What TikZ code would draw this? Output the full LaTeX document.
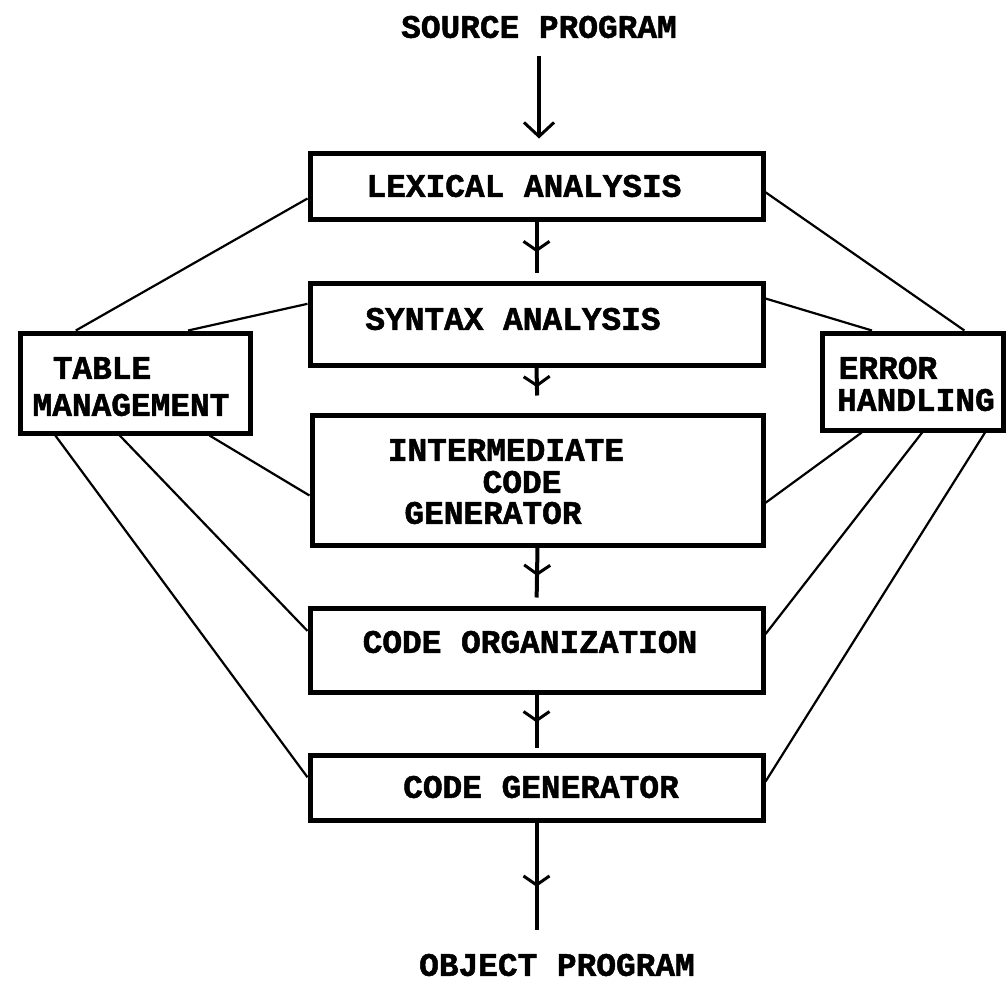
\documentclass[tikz,border=0pt]{standalone}
\usepackage{fontspec}
\newfontfamily\tw{Liberation Mono}[BoldFeatures={FakeBold=1.5}]
\usetikzlibrary{calc,arrows.meta,decorations.markings}
\begin{document}
\begin{tikzpicture}[x=1pt,y=-1pt,
  box/.style={draw,line width=5pt,inner sep=0pt},
  lbl/.style={inner sep=0pt,font=\tw\bfseries\fontsize{32.8}{34}\selectfont},
  link/.style={line width=2.2pt},
  shaft/.style={line width=4pt},
  midarrow/.style={postaction={decorate},decoration={markings,
    mark=at position #1 with {\arrow[line width=3pt]{Straight Barb[length=9pt,width=26pt]}}}},
]
\useasboundingbox (0,0) rectangle (1007,982);

% boxes
\node[box,minimum width=453pt,minimum height=66pt]  (lex)   at (536.5,186) {};
\node[box,minimum width=453pt,minimum height=82pt]  (syn)   at (536.5,324) {};
\node[box,minimum width=451pt,minimum height=130pt] (inter) at (537.5,480) {};
\node[box,minimum width=453pt,minimum height=84pt]  (org)   at (536.5,650) {};
\node[box,minimum width=453pt,minimum height=65pt]  (gen)   at (536.5,787.5) {};
\node[box,minimum width=230pt,minimum height=100pt] (tm)    at (135,383) {};
\node[box,minimum width=181pt,minimum height=97pt]  (eh)    at (912.5,381.5) {};

% texts
\node[lbl] (src)  at (539,27)  {SOURCE PROGRAM};
\node[lbl] (lext) at (524,186) {LEXICAL ANALYSIS};
\node[lbl] (synt) at (513,319) {SYNTAX ANALYSIS};
\node[lbl] (in1)  at (506,450) {INTERMEDIATE};
\node[lbl] (in2)  at (522,482) {CODE};
\node[lbl] (in3)  at (493,513) {GENERATOR};
\node[lbl] (orgt) at (530,642) {CODE ORGANIZATION};
\node[lbl] (gent) at (541,787) {CODE GENERATOR};
\node[lbl] (obj)  at (557,965) {OBJECT PROGRAM};
\node[lbl] (tm1)  at (102,368) {TABLE};
\node[lbl] (tm2)  at (131,405) {MANAGEMENT};
\node[lbl] (eh1)  at (888,368) {ERROR};
\node[lbl] (eh2)  at (916,400) {HANDLING};

% main flow
\draw[shaft,-{Straight Barb[length=14pt,width=30pt,line width=3pt]},shorten <=18pt,shorten >=12pt]
  (src.south) -- (src.south |- lex.north);
\draw[shaft,midarrow=0.52,shorten >=8pt]  (lex.south)   -- (syn.north);
\draw[shaft,midarrow=0.44,shorten >=17pt] (syn.south)   -- (inter.north);
\draw[shaft,midarrow=0.49,shorten >=8pt]  (inter.south) -- (org.north);
\draw[shaft,midarrow=0.48,shorten >=5pt]  (org.south)   -- (gen.north);
\draw[shaft,midarrow=0.49,shorten >=24pt] (gen.south)   -- (gen.south |- obj.north);

% table management links
\draw[link] ($(tm.north west)!0.248!(tm.north east)$) -- ($(lex.north west)!0.676!(lex.south west)$);
\draw[link] ($(tm.north west)!0.726!(tm.north east)$) -- ($(syn.north west)!0.268!(syn.south west)$);
\draw[link] ($(tm.south west)!0.817!(tm.south east)$) -- ($(inter.north west)!0.615!(inter.south west)$);
\draw[link] ($(tm.south west)!0.435!(tm.south east)$) -- ($(org.north west)!0.286!(org.south west)$);
\draw[link] ($(tm.south west)!0.161!(tm.south east)$) -- ($(gen.north west)!0.354!(gen.south west)$);

% error handling links
\draw[link] ($(lex.north east)!0.588!(lex.south east)$) -- ($(eh.north west)!0.779!(eh.north east)$);
\draw[link] ($(syn.north east)!0.207!(syn.south east)$) -- ($(eh.north west)!0.282!(eh.north east)$);
\draw[link] ($(eh.south west)!0.227!(eh.south east)$) -- ($(inter.north east)!0.669!(inter.south east)$);
\draw[link] ($(eh.south west)!0.552!(eh.south east)$) -- ($(org.north east)!0.321!(org.south east)$);
\draw[link] ($(eh.south west)!0.890!(eh.south east)$) -- ($(gen.north east)!0.415!(gen.south east)$);
\end{tikzpicture}
\end{document}
